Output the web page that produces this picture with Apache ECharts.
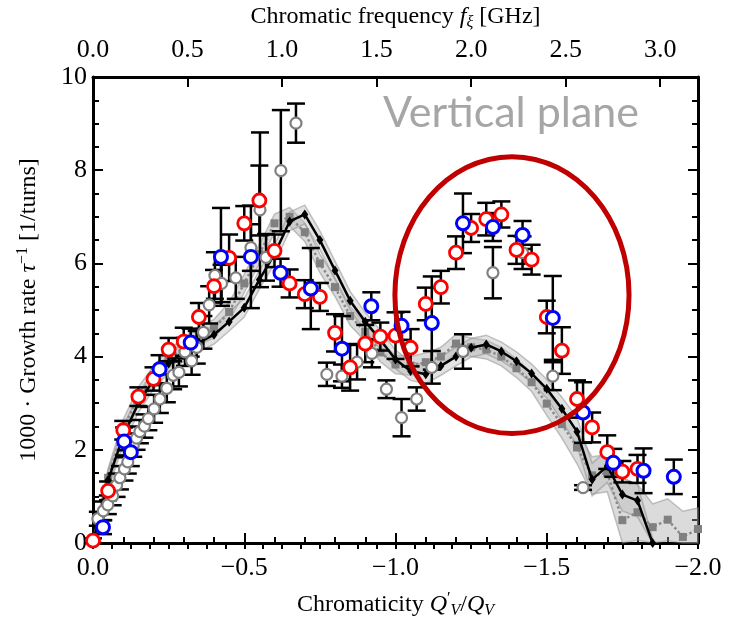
<!DOCTYPE html>
<html>
<head>
<meta charset="utf-8">
<script src="https://cdn.jsdelivr.net/npm/echarts@6/dist/echarts.min.js"></script>
<style>
  html, body { margin: 0; padding: 0; background: #fff; }
  #chart { width: 738px; height: 624px; }
</style>
</head>
<body>
<div id="chart"></div>
<script>
// ---- Measured growth rates (1000 / tau) vs chromaticity Q'/Q ----
const grayQ = [-0.016,-0.034,-0.049,-0.065,-0.078,-0.089,-0.104,-0.115,-0.133,-0.144,-0.155,-0.170,-0.183,-0.202,-0.221,-0.244,-0.265,-0.284,-0.304,-0.326,-0.343,-0.365,-0.384,-0.403,-0.425,-0.472,-0.522,-0.552,-0.572,-0.621,-0.671,-0.773,-0.823,-0.873,-0.922,-0.970,-1.020,-1.070,-1.120,-1.223,-1.322,-1.420,-1.520,-1.620];
const grayRate = [0.52,0.69,0.82,1.01,1.24,1.40,1.59,1.74,2.10,2.25,2.39,2.51,2.67,2.88,3.09,3.32,3.60,3.66,4.10,3.91,4.20,4.52,5.11,5.74,5.57,5.69,6.34,7.15,6.13,7.99,9.01,3.62,3.58,3.88,4.07,3.30,2.69,3.09,3.77,4.11,5.80,6.23,3.58,1.19];
const grayErr = [0.15,0.2,0.2,0.2,0.25,0.25,0.25,0.25,0.25,0.25,0.25,0.25,0.25,0.3,0.3,0.3,0.3,0.3,0.3,0.3,0.35,0.35,0.4,0.5,0.4,0.45,0.5,1.66,0.5,1.3,0.42,0.25,0.25,0.37,0.3,0.19,0.4,0.25,0.35,0.37,0.55,0.35,0.3,0.05];

const redQ = [0,-0.05,-0.10,-0.15,-0.20,-0.25,-0.30,-0.35,-0.40,-0.45,-0.50,-0.55,-0.60,-0.65,-0.70,-0.75,-0.80,-0.85,-0.90,-0.95,-1.00,-1.05,-1.10,-1.15,-1.20,-1.25,-1.30,-1.35,-1.40,-1.45,-1.50,-1.55,-1.60,-1.65,-1.70,-1.75,-1.80];
const redRate = [0.05,1.12,2.42,3.14,3.52,4.15,4.32,4.85,5.51,6.12,6.86,7.35,6.27,5.57,5.34,5.28,4.51,3.77,4.28,4.43,4.45,4.19,5.13,5.49,6.23,6.76,6.95,7.05,6.29,6.08,4.85,4.13,3.09,2.48,1.95,1.53,1.59];
const redErr = [0.05,0.2,0.2,0.2,0.25,0.25,0.3,0.3,0.35,0.5,0.37,0.75,0.35,0.3,0.3,0.3,0.4,0.5,0.4,0.3,0.5,0.4,0.35,0.35,0.35,0.3,0.35,0.28,0.3,0.32,0.35,0.5,0.4,0.32,0.36,0.23,0.3];

const blueQ = [-0.033,-0.103,-0.125,-0.220,-0.323,-0.423,-0.522,-0.620,-0.720,-0.823,-0.920,-1.020,-1.120,-1.223,-1.322,-1.420,-1.520,-1.620,-1.720,-1.820,-1.920];
const blueRate = [0.34,2.18,1.95,3.73,4.30,6.14,6.14,5.80,5.46,4.17,5.08,4.66,4.72,6.86,6.78,6.61,4.83,2.80,1.72,1.55,1.42];
const blueErr = [0.15,0.3,0.3,0.3,0.3,1.05,1.1,0.3,0.87,0.7,0.3,0.3,1.0,0.64,0.3,0.3,0.9,0.65,0.3,0.48,0.37];

// ---- Simulations ----
const simBlackQ = [0,-0.05,-0.10,-0.15,-0.20,-0.25,-0.30,-0.35,-0.40,-0.45,-0.50,-0.55,-0.60,-0.65,-0.70,-0.75,-0.80,-0.85,-0.90,-0.95,-1.00,-1.05,-1.10,-1.15,-1.20,-1.25,-1.30,-1.35,-1.40,-1.45,-1.50,-1.55,-1.60,-1.65,-1.70,-1.75,-1.80,-1.85];
const simBlackRate = [0.0,1.35,2.3,3.0,3.5,3.85,4.1,4.3,4.47,4.75,5.05,5.65,6.2,6.9,7.05,6.5,5.85,5.2,4.75,4.36,3.94,3.69,3.62,3.80,4.0,4.19,4.26,4.11,3.90,3.64,3.31,2.88,2.39,1.36,1.65,1.04,0.91,0.0];
const simBlackSpread = [0.05,0.2,0.2,0.2,0.2,0.2,0.2,0.2,0.2,0.2,0.2,0.2,0.2,0.2,0.2,0.2,0.2,0.2,0.2,0.2,0.2,0.2,0.2,0.2,0.2,0.2,0.2,0.2,0.2,0.2,0.2,0.25,0.3,0.35,0.35,0.35,0.35,0.1];

const simGrayQ = [0,-0.05,-0.10,-0.15,-0.20,-0.25,-0.30,-0.35,-0.40,-0.45,-0.50,-0.55,-0.60,-0.65,-0.70,-0.75,-0.80,-0.85,-0.90,-0.95,-1.00,-1.05,-1.10,-1.15,-1.20,-1.25,-1.30,-1.35,-1.40,-1.45,-1.50,-1.55,-1.60,-1.65,-1.70,-1.75,-1.80,-1.85,-1.90,-1.95,-2.00];
const simGrayRate = [0.0,1.4,2.45,3.15,3.6,3.95,4.2,4.45,4.6,4.96,5.57,6.2,6.86,7.0,6.67,6.0,5.49,4.87,4.53,4.09,3.83,3.8,3.88,4.0,4.28,4.2,4.15,4.0,3.75,3.45,2.99,2.55,2.05,1.45,1.5,0.49,0.66,0.34,0.5,0.13,0.3];
const simGraySpread = [0.05,0.2,0.2,0.2,0.2,0.2,0.2,0.2,0.2,0.2,0.2,0.2,0.2,0.2,0.2,0.2,0.2,0.2,0.2,0.2,0.2,0.2,0.2,0.2,0.2,0.2,0.2,0.2,0.2,0.2,0.25,0.3,0.35,0.4,0.4,0.9,0.6,0.5,0.45,0.55,0.45];

// ---- Annotation: ellipse around the second maximum ----
const ellipseCenter = [-1.385, 5.32];
const ellipseRadii = [0.387, 2.97];
const annotationText = 'Vertical plane';

const serif = '"Liberation Serif", "DejaVu Serif", serif';
const tickFont = 26;

const chart = echarts.init(document.getElementById('chart'), null, { renderer: 'canvas' });

function pairs(xs, ys) { return xs.map((x, i) => [x, ys[i]]); }

function errorBars(qs, vals, errs, z) {
  return {
    type: 'custom', z: z, silent: true, clip: false,
    data: qs.map((q, i) => [q, vals[i] - errs[i], vals[i] + errs[i]]),
    encode: { x: 0, y: [1, 2] },
    renderItem: function (params, api) {
      const lo = api.coord([api.value(0), api.value(1)]);
      const hi = api.coord([api.value(0), api.value(2)]);
      const w = 9;
      const st = { stroke: '#000', lineWidth: 2.5 };
      return {
        type: 'group',
        children: [
          { type: 'line', shape: { x1: lo[0], y1: lo[1], x2: hi[0], y2: hi[1] }, style: st },
          { type: 'line', shape: { x1: lo[0] - w, y1: lo[1], x2: lo[0] + w, y2: lo[1] }, style: st },
          { type: 'line', shape: { x1: hi[0] - w, y1: hi[1], x2: hi[0] + w, y2: hi[1] }, style: st }
        ]
      };
    }
  };
}

function band(qs, vals, spread, fill, z) {
  return {
    type: 'custom', z: z, silent: true,
    data: [[qs[0], vals[0]]],
    renderItem: function (params, api) {
      const pts = [];
      for (let i = 0; i < qs.length; i++) {
        pts.push(api.coord([qs[i], Math.min(10, vals[i] + spread[i])]));
      }
      for (let i = qs.length - 1; i >= 0; i--) {
        pts.push(api.coord([qs[i], Math.max(0, vals[i] - spread[i])]));
      }
      return {
        type: 'polygon', shape: { points: pts },
        style: { fill: fill, stroke: 'rgba(140,140,140,0.5)', lineWidth: 1.5 }
      };
    }
  };
}

function openCircles(qs, vals, color, size, bw, z) {
  return {
    type: 'scatter', z: z, silent: true,
    data: pairs(qs, vals),
    symbol: 'circle', symbolSize: size,
    itemStyle: { color: '#fff', borderColor: color, borderWidth: bw, opacity: 1 }
  };
}

const minus = v => (Math.abs(v) < 1e-9 ? '0.0' : v.toFixed(1).replace('-', '\u2212'));

const option = {
  animation: false,
  backgroundColor: '#fff',
  grid: { left: 93, right: 40, top: 74, bottom: 78, containLabel: false },
  xAxis: [
    {
      type: 'value', min: -2, max: 0, interval: 0.5, inverse: true, position: 'bottom',
      name: 'Chromaticity {i|Q}{sup|\u2032}{sub|V}/{i|Q}{sub|V}',
      nameLocation: 'middle', nameGap: 48,
      nameTextStyle: {
        fontFamily: serif, fontSize: 24, color: '#000',
        rich: {
          i: { fontFamily: serif, fontSize: 24, fontStyle: 'italic', color: '#000' },
          sub: { fontFamily: serif, fontSize: 16, fontStyle: 'italic', color: '#000', padding: [12, 0, 0, 0] },
          sup: { fontFamily: serif, fontSize: 16, color: '#000', padding: [0, 0, 12, 0] }
        }
      },
      axisLine: { show: true, onZero: false, lineStyle: { color: '#000', width: 3 } },
      axisTick: { show: true, inside: true, length: 10, lineStyle: { color: '#000', width: 2 } },
      minorTick: { show: true, splitNumber: 5, length: 6, lineStyle: { color: '#000', width: 2 } },
      splitLine: { show: false },
      axisLabel: { fontFamily: serif, fontSize: tickFont, color: '#000', margin: 12, formatter: minus }
    },
    {
      type: 'value', min: 0, max: 3.2, interval: 0.5, position: 'top',
      name: 'Chromatic frequency {i|f}{sub|\u03be} [GHz]',
      nameLocation: 'middle', nameGap: 46,
      nameTextStyle: {
        fontFamily: serif, fontSize: 24, color: '#000',
        rich: {
          i: { fontFamily: serif, fontSize: 24, fontStyle: 'italic', color: '#000' },
          sub: { fontFamily: serif, fontSize: 16, fontStyle: 'italic', color: '#000', padding: [12, 0, 0, 0] }
        }
      },
      axisLine: { show: true, onZero: false, lineStyle: { color: '#000', width: 3 } },
      axisTick: { show: true, inside: true, length: 10, lineStyle: { color: '#000', width: 2 } },
      splitLine: { show: false },
      axisLabel: { fontFamily: serif, fontSize: tickFont, color: '#000', margin: 14, showMaxLabel: false,
                   formatter: v => v.toFixed(1) }
    },
    {
      type: 'value', min: 0, max: 3.2, interval: 0.1, position: 'top',
      axisLine: { show: false },
      axisTick: { show: true, inside: true, length: 6, lineStyle: { color: '#000', width: 2 } },
      splitLine: { show: false },
      axisLabel: { show: false }
    }
  ],
  yAxis: [
    {
      type: 'value', min: 0, max: 10, interval: 2, position: 'left',
      name: '1000 \u00b7 Growth rate {i|\u03c4}{sup|\u22121} [1/turns]',
      nameLocation: 'middle', nameGap: 50, nameRotate: 90,
      nameTextStyle: {
        fontFamily: serif, fontSize: 24, color: '#000',
        rich: {
          i: { fontFamily: serif, fontSize: 24, fontStyle: 'italic', color: '#000' },
          sup: { fontFamily: serif, fontSize: 16, color: '#000', padding: [0, 0, 12, 0] }
        }
      },
      axisLine: { show: true, onZero: false, lineStyle: { color: '#000', width: 3 } },
      axisTick: { show: true, inside: true, length: 10, lineStyle: { color: '#000', width: 2 } },
      minorTick: { show: true, splitNumber: 4, length: 6, lineStyle: { color: '#000', width: 2 } },
      splitLine: { show: false },
      axisLabel: { fontFamily: serif, fontSize: tickFont, color: '#000', margin: 6 }
    },
    {
      type: 'value', min: 0, max: 10, interval: 2, position: 'right',
      axisLine: { show: true, onZero: false, lineStyle: { color: '#000', width: 3 } },
      axisTick: { show: true, inside: true, length: 10, lineStyle: { color: '#000', width: 2 } },
      minorTick: { show: true, splitNumber: 4, length: 6, lineStyle: { color: '#000', width: 2 } },
      splitLine: { show: false },
      axisLabel: { show: false }
    }
  ],
  graphic: [
    {
      type: 'text', x: 511, y: 113, z: 100,
      style: {
        text: annotationText, fill: '#a6a6a6',
        font: '43px Lato, "Open Sans", sans-serif',
        textAlign: 'center', textVerticalAlign: 'middle'
      }
    }
  ],
  series: [
    band(simGrayQ, simGrayRate, simGraySpread, 'rgba(165,165,165,0.4)', 1),
    band(simBlackQ, simBlackRate, simBlackSpread, 'rgba(185,185,185,0.4)', 1),
    {
      type: 'line', z: 2, silent: true,
      data: pairs(simGrayQ, simGrayRate),
      symbol: 'rect', symbolSize: 8, showSymbol: true,
      itemStyle: { color: '#808080' },
      lineStyle: { color: '#8a8a8a', width: 2.5, type: 'dotted' }
    },
    {
      type: 'line', z: 3, silent: true,
      data: pairs(simBlackQ, simBlackRate),
      symbol: 'diamond', symbolSize: [7, 10], showSymbol: true,
      itemStyle: { color: '#000' },
      lineStyle: { color: '#000', width: 2.5 }
    },
    errorBars(grayQ, grayRate, grayErr, 4),
    errorBars(redQ, redRate, redErr, 4),
    errorBars(blueQ, blueRate, blueErr, 4),
    openCircles(grayQ, grayRate, '#808080', 11, 2.2, 5),
    openCircles(redQ, redRate, '#ff0000', 13, 2.8, 6),
    openCircles(blueQ, blueRate, '#0000ff', 13, 3, 7),
    {
      type: 'custom', z: 8, silent: true, clip: false,
      data: [ellipseCenter],
      renderItem: function (params, api) {
        const c = api.coord([api.value(0), api.value(1)]);
        const s = api.size(ellipseRadii);
        return {
          type: 'ellipse',
          shape: { cx: c[0], cy: c[1], rx: s[0], ry: s[1] },
          style: { fill: 'none', stroke: '#c00000', lineWidth: 5 }
        };
      }
    }
  ]
};

chart.setOption(option);
</script>
</body>
</html>
